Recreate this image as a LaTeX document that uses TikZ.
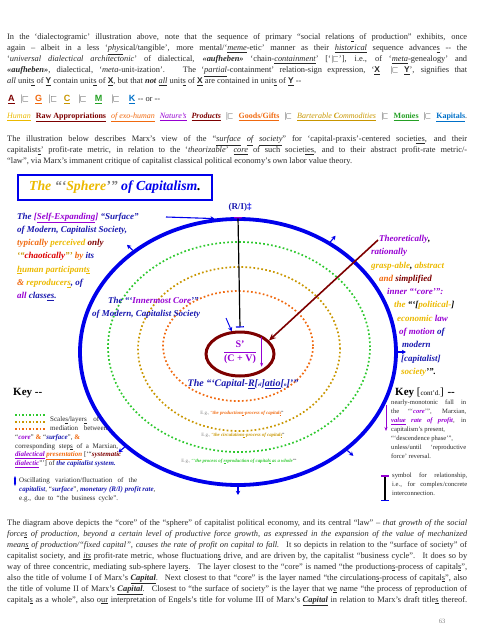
\documentclass[tikz,border=0pt]{standalone}
\usepackage{amsmath, amssymb}
\usepackage{fontspec}
\setmainfont{Liberation Serif}
\setsansfont{Liberation Sans}
\usetikzlibrary{arrows.meta, shapes.geometric}

\definecolor{capblue}{RGB}{0,0,235}
\definecolor{inkblue}{RGB}{25,25,175}
\definecolor{violetc}{RGB}{150,0,210}
\definecolor{goldc}{RGB}{235,185,0}
\definecolor{darkgold}{RGB}{200,150,0}
\definecolor{orangec}{RGB}{240,105,15}
\definecolor{redc}{RGB}{220,0,0}
\definecolor{maroonc}{RGB}{125,0,0}
\definecolor{greenc}{RGB}{45,200,45}
\definecolor{skyc}{RGB}{0,112,200}
\definecolor{inkgray}{RGB}{40,40,40}

\newcommand{\pcon}{\ensuremath{\mathrel{\mathord{|}\mkern-2mu\mathord{\sqsubset}}}}
\newcommand{\fillline}[2][460pt]{\makebox[#1][s]{#2}}
\newcommand{\bi}[1]{\textbf{\textit{#1}}}
\newcommand{\ul}[1]{\underline{#1}}

\begin{document}
\begin{tikzpicture}[x=1pt, y=-1pt,
  bodytext/.style={inner sep=0pt, anchor=north west, align=left, text=inkgray,
    font=\fontsize{8.4}{11}\selectfont},
  lbl/.style={inner sep=0pt, anchor=north west, align=left,
    font=\bfseries\itshape\fontsize{9}{13.3}\selectfont},
  keytext/.style={inner sep=0pt, anchor=north west, align=left, text=inkgray,
    font=\fontsize{7}{8.8}\selectfont},
  eg/.style={inner sep=0pt, font=\fontsize{4.8}{6}\selectfont},
  layer/.style={ellipse, draw, inner sep=0pt, line width=1.7pt,
    dash pattern=on 1.7pt off 2.3pt},
  outarrow/.style={capblue, line width=1.1pt, -{Stealth[length=4pt, width=4.5pt]}}]
  \useasboundingbox (0,0) rectangle (480,640);

  % text above the picture
  \node[bodytext] (intro) at (7,33.5) {%
    \fillline{In the ‘dialectogramic’ illustration above, note that the sequence of primary “social relation\ul{s} of production” exhibits, once}\\
    \fillline{again – albeit in a less ‘\textit{\ul{phys}}ical/tangible’, more mental/‘\textit{\ul{meme}}-etic’ manner as their \textit{\ul{historical}} sequence advance\ul{s} -{}- the}\\
    \fillline{‘\textit{universal dialectical architectonic}’ of dialectical, \bi{«aufheben»} ‘chain-\textit{\ul{containment}}’ [‘\pcon’], i.e., of ‘\textit{\ul{meta}}-genealogy’ and}\\
    \fillline{\bi{«aufheben»}, dialectical, ‘\textit{meta}-unit-ization’. \ The ‘\textit{\ul{partial}}-containment’ relation-sign expression, ‘\textsf{\textbf{\ul{X}}} \ \pcon\ \textsf{\textbf{\ul{Y}}}’, signifies that}\\
    \textit{all} unit\ul{s} of \textsf{\textbf{\ul{Y}}} contain unit\ul{s} of \textsf{\textbf{\ul{X}}}, but that \bi{not} \textit{\ul{all}} unit\ul{s} of \textsf{\textbf{\ul{X}}} are contained in unit\ul{s} of \textsf{\textbf{\ul{Y}}} -{}-};
  \node[bodytext, font=\sffamily\bfseries\fontsize{9}{10}\selectfont] (letters) at (8,95) {%
    \textcolor{maroonc}{\ul{A}}\hspace{6pt}\pcon\hspace{6pt}\textcolor{orangec}{\ul{G}}\hspace{6.5pt}\pcon\hspace{6.5pt}\textcolor{darkgold}{\ul{C}}\hspace{8pt}\pcon\hspace{8pt}\textcolor{greenc!80!black}{\ul{M}}\hspace{9pt}\pcon\hspace{9pt}\textcolor{skyc}{\ul{K}} {\rmfamily\mdseries\fontsize{8.4}{10}\selectfont -{}- or -{}-}};
  \node[bodytext, font=\fontsize{8}{10}\selectfont] (chain) at (7,112.5) {%
    \fillline{\textcolor{goldc}{\textit{\ul{Human}}} \textcolor{maroonc}{\textbf{\ul{Raw Appropriations}}} \textcolor{orangec}{\textit{\ul{of exo-human}}} \textcolor{violetc}{\textit{\ul{Nature’s}}} \textcolor{maroonc}{\bi{\ul{Products}}} \pcon\ \textcolor{orangec}{\textbf{\ul{Goods/Gifts}}} \pcon\ \textcolor{darkgold}{\textit{\ul{Barterable \textbf{C}ommodities}}} \pcon\ \textcolor{greenc!80!black}{\textbf{\ul{Monies}}} \pcon\ \textcolor{skyc}{\textbf{\ul{Kapitals}}}.}};
  \node[bodytext] (lead) at (7,135.5) {%
    \fillline{The illustration below describes Marx’s view of the “\textit{\ul{surface} \ul{of} \ul{society}}” for ‘capital-praxis’-centered societ\ul{ies}, and their}\\
    \fillline{capitalist\ul{s}’ profit-rate metric, in relation to the ‘\textit{theorizable}’ \textit{\ul{core}} of such societ\ul{ies}, and to their abstract profit-rate metric/-}\\
    “law”, via Marx’s immanent critique of capitalist classical political economy’s own labor value theory.};

  % title box
  \node[draw=capblue, line width=2pt, minimum width=194pt, minimum height=25pt,
    font=\bfseries\itshape\fontsize{13.8}{15}\selectfont] (title) at (115,187.5)
    {\textcolor{goldc}{The} \textcolor{gray}{“‘}\textcolor{goldc}{Sphere}\textcolor{gray}{’”} \textcolor{capblue}{of Capitalism}.};

  % surface, three mediating layers, core
  \node[ellipse, draw=capblue, line width=3.8pt, inner sep=0pt,
    minimum width=316pt, minimum height=266pt] (surface) at (238,352) {};
  \node[layer, draw=greenc, minimum width=262pt, minimum height=210pt] (reprolayer) at (239,347) {};
  \node[layer, draw=darkgold, minimum width=202pt, minimum height=164pt] (circlayer) at (239,349) {};
  \node[layer, draw=orangec, minimum width=150pt, minimum height=110pt] (prodlayer) at (238,346) {};
  \node[ellipse, draw=maroonc, line width=3pt, inner sep=0pt,
    minimum width=68pt, minimum height=44pt] (core) at (240,354) {};

  % the surface expands outwards
  \foreach \a in {50,136,220,270,318,0}
    \draw[outarrow] (surface.\a) -- ++(\a:8pt);

  % profit rate: S'/(C+V) and its fall
  \node[text=violetc, font=\bfseries\fontsize{10}{12}\selectfont] (ratio) at (240,352)
    {$\dfrac{\textbf{S’}}{\textbf{(C + V)}}$};
  \draw[violetc, line width=1pt, -{Stealth[length=4pt]}]
    ([xshift=1pt]ratio.north east) -- ([xshift=1pt]ratio.south east);
  \node[text=inkblue, font=\bfseries\fontsize{9}{11}\selectfont] (rilabel) at (240,207)
    {(R/I)\textcolor{capblue}{‡}};
  \draw[black, line width=1.2pt, {Bar[width=8pt, color=violetc]}-{Bar[width=8pt, color=capblue]}]
    (surface.north) -- ([yshift=3pt]core.north);

  % left: the surface
  \node[lbl] (surfacelbl) at (17,212.5) {%
    \textcolor{inkblue}{The} \textcolor{violetc}{[\ul{Self-Expanding}]} \textcolor{inkblue}{“Surface”}\\
    \textcolor{inkblue}{of Modern, Capitalist Society,}\\
    \textcolor{orangec}{typically} \textcolor{goldc}{perceived} \textcolor{maroonc}{only}\\
    \textcolor{darkgold}{‘“}\textcolor{redc}{chaotically}\textcolor{darkgold}{”’} \textcolor{orangec}{by} \textcolor{inkblue}{its}\\
    \textcolor{goldc}{\ul{h}uman participant\ul{s}}\\
    \textcolor{orangec}{\&} \textcolor{goldc}{reproducer\ul{s}}\textcolor{inkblue}{, of}\\
    \textcolor{violetc}{all} \textcolor{inkblue}{class\ul{es}.}};
  \coordinate (surfacetip) at (166,217);
  \draw[outarrow] (surfacetip) -- (surface.100);

  % right: the core, theoretically
  \node[lbl] (corelbl) at (371,235) {%
    \hspace*{8pt}\textcolor{violetc}{Theoretically},\\
    \textcolor{violetc}{rationally}\\
    \textcolor{goldc}{grasp-able}, \textcolor{goldc}{abstract}\\
    \hspace*{8pt}\textcolor{orangec}{and} \textcolor{maroonc}{simplified}\\
    \hspace*{16pt}\textcolor{violetc}{inner “‘core’”:}\\
    \hspace*{23pt}\textcolor{goldc}{the} “‘[\textcolor{goldc}{political-}]\\
    \hspace*{26pt}\textcolor{goldc}{economic} \textcolor{violetc}{law}\\
    \hspace*{28pt}\textcolor{violetc}{of motion} \textcolor{inkblue}{of}\\
    \hspace*{31pt}\textcolor{inkblue}{modern}\\
    \hspace*{30pt}\textcolor{inkblue}{[capitalist]}\\
    \hspace*{30pt}\textcolor{goldc}{society}’”.};
  \coordinate (theorytip) at (378,240);
  \draw[maroonc, line width=1.6pt, -{Stealth[length=7pt, width=6pt]}] (theorytip) -- (core.25);

  % innermost core
  \node[lbl, text=inkblue] (innerlbl) at (92,297) {%
    \hspace*{16pt}The “‘\textcolor{violetc}{Innermost Core}’”\\
    of Modern, Capitalist Society};
  \coordinate (innertip) at (226,318);
  \draw[outarrow, line width=0.9pt] (innertip) -- (core.110);

  \node[inner sep=0pt, text=inkblue, font=\bfseries\itshape\fontsize{10}{12}\selectfont] (caprel) at (243,384)
    {The “‘Capital-\ul{R}[{\fontsize{5}{6}\selectfont el}]\ul{atio}[{\fontsize{5}{6}\selectfont n}]’”};

  % names of the three layers
  \node[eg] (prodname) at (242,413) {\textcolor{gray}{E.g.,} \textcolor{orangec}{“\bi{the production\ul{s}-process of capital\ul{s}}}”};
  \node[eg] (circname) at (243,435) {\textcolor{gray}{E.g.,} \textcolor{darkgold}{“\bi{the circulation\ul{s}-process of capital\ul{s}}}”};
  \node[eg] (reproname) at (239,461) {\textcolor{gray}{E.g.,} \textcolor{greenc}{“‘\bi{the process of \ul{r}eproduction of capital\ul{s} as a whole}}’”};

  % key, left
  \node[inner sep=0pt, anchor=west, font=\bfseries\fontsize{11}{13}\selectfont] (keyleft) at (13,393) {Key -{}-};
  \foreach \c/\y in {greenc/415, darkgold/422, orangec/429}
    \draw[\c, line width=1.5pt, dash pattern=on 1.5pt off 2pt] (15,\y) -- (45,\y);
  \node[keytext] (keylayers) at (15,416.5) {%
    \hspace*{35pt}\fillline[49pt]{Scale\ul{s}/layer\ul{s} of}\\
    \hspace*{35pt}\fillline[57pt]{mediation between}\\
    “\textcolor{violetc}{\bi{core}}” \textcolor{orangec}{\textbf{\&}} “\textcolor{inkblue}{\bi{surface}}”, \textcolor{orangec}{\textbf{\&}}\\
    \fillline[103pt]{corresponding step\ul{s} of a Marxian,}\\
    \textcolor{violetc}{\bi{\ul{dialectical}}} \textcolor{orangec}{\bi{\ul{presentation}}} [‘“\textcolor{maroonc}{\bi{systematic}}\\
    \textcolor{violetc}{\bi{\ul{dialectic}}}”’] of \textcolor{inkblue}{\bi{the capitalist system.}}};
  \coordinate (oscitop) at (15,476);
  \coordinate (oscibot) at (15,486);
  \draw[capblue, line width=1.1pt, {Stealth[length=3pt]}-{Stealth[length=3pt]}] (oscitop) -- (oscibot);
  \node[keytext] (keyosci) at (19,477.5) {%
    \fillline[118pt]{Oscillating variation/fluctuation of the}\\
    \textcolor{inkblue}{\bi{capitalist}}, “\textcolor{inkblue}{\bi{surface}}”, \textcolor{inkblue}{\bi{monetary (R/I) profit rate}},\\
    \fillline[99pt]{e.g., due to “the business cycle”.}};

  % key, right
  \node[inner sep=0pt, anchor=west, font=\bfseries\fontsize{11}{13}\selectfont] (keyright) at (395,393)
    {Key {\mdseries [{\fontsize{7}{8}\selectfont cont’d.}]} -{}-};
  \coordinate (falltop) at (386,405);
  \coordinate (fallbot) at (386,431);
  \draw[violetc, line width=1pt, -{Stealth[length=4pt]}] (falltop) -- (fallbot);
  \node[keytext, font=\fontsize{6.6}{8.9}\selectfont] (keyfall) at (391,400) {%
    \fillline[75pt]{nearly-monotonic fall in}\\
    \fillline[75pt]{the “‘\textcolor{violetc}{\bi{core}}’”, Marxian,}\\
    \fillline[75pt]{\textcolor{violetc}{\bi{\ul{value} rate of profit}}, in}\\
    capitalism’s present,\\
    “‘descendence phase’”,\\
    \fillline[75pt]{unless/until ‘reproductive}\\
    force’ reversal.};
  \coordinate (reltop) at (385,475);
  \coordinate (relbot) at (385,501);
  \draw[black, line width=1.5pt, {Bar[width=8pt, color=violetc]}-{Bar[width=8pt, color=capblue]}] (reltop) -- (relbot);
  \node[keytext, font=\fontsize{6.6}{8.9}\selectfont] (keyrel) at (392,473) {%
    \fillline[75pt]{symbol for relationship,}\\
    \fillline[75pt]{i.e., for complex/concrete}\\
    interconnection.};

  % text below the picture
  \node[bodytext] (closing) at (7,519) {%
    \fillline{The diagram above depicts the “core” of the “sphere” of capitalist political economy, and its central “law” – \textit{that growth of the social}}\\
    \fillline{\textit{force\ul{s} of production, beyond a certain level of productive force growth, as expressed in the expansion of the value of mechanized}}\\
    \fillline{\textit{mean\ul{s} of production/“fixed capital”, causes the rate of profit on capital to fall.} \ It so depicts in relation to the “surface of society” of}\\
    \fillline{capitalist society, and \textit{\ul{its}} profit-rate metric, whose fluctuation\ul{s} drive, and are driven by, the capitalist “business cycle”. \ It does so by}\\
    \fillline{way of three concentric, mediating sub-sphere layer\ul{s}. \ The layer closest to the “core” is named “the production\ul{s}-process of capital\ul{s}”,}\\
    \fillline{also the title of volume I of Marx’s \bi{\ul{Capital}}. \ Next closest to that “core” is the layer named “the circulation\ul{s}-process of capital\ul{s}”, also}\\
    \fillline{the title of volume II of Marx’s \bi{\ul{Capital}}. \ Closest to “the surface of society” is the layer that w\ul{e} name “the process of \ul{r}eproduction of}\\
    \fillline{capital\ul{s} as a whole”, also o\ul{ur} interpretation of Engels’s title for volume III of Marx’s \bi{\ul{Capital}} in relation to Marx’s draft title\ul{s} thereof.}};
  \node[inner sep=0pt, text=gray, font=\fontsize{6.5}{8}\selectfont] (pagenum) at (442,621) {63};
\end{tikzpicture}
\end{document}
